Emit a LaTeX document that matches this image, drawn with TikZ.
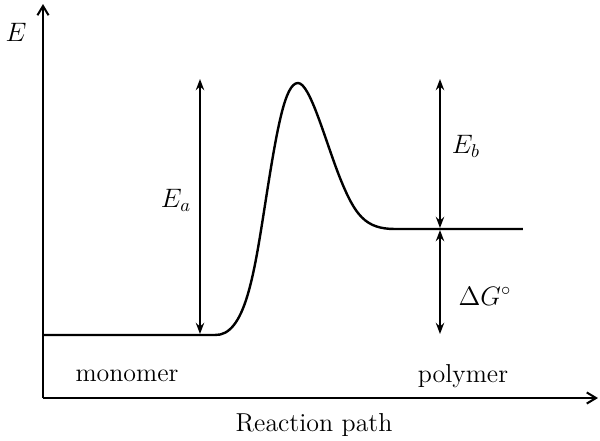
\documentclass[tikz,border=0pt]{standalone}
\usetikzlibrary{arrows.meta}
\begin{document}
\begin{tikzpicture}[x=0.54pt,y=-0.54pt,
  font=\fontsize{14}{17}\selectfont,
  axis/.style={line width=1.1pt,-{Straight Barb[length=5pt,width=6pt]}},
  dim/.style={line width=1.1pt,{Stealth[length=6pt,width=4.5pt]}-{Stealth[length=6pt,width=4.5pt]}},
  lvl/.style={line width=1.3pt},
  lbl/.style={inner sep=0pt}]
\useasboundingbox (0,0) rectangle (600,441);
% axes
\coordinate (O) at (43,398);
\coordinate (ytop) at (43,4);
\coordinate (xend) at (598,398);
\draw[axis] (O) -- (ytop);
\draw[axis] (O) -- (xend);
% energy profile
\coordinate (m0) at (43,335);
\coordinate (m1) at (215,335);
\coordinate (infl) at (265,205);
\coordinate (peak) at (298,83);
\coordinate (infr) at (340,178);
\coordinate (p0) at (395,229);
\coordinate (p1) at (523,229);
\draw[lvl] (m0) -- (m1)
  .. controls (245,336) and (254,275) .. (infl)
  .. controls (277,128) and (285,83) .. (peak)
  .. controls (310,83) and (325,140) .. (infr)
  .. controls (355,215) and (365,229) .. (p0) -- (p1);
% dimension arrows
\coordinate (eatop) at (200,79);
\coordinate (eabot) at (200,334);
\coordinate (ebtop) at (440,79);
\coordinate (ebbot) at (440,228);
\coordinate (dgtop) at (440,230);
\coordinate (dgbot) at (440,334);
\draw[dim] (eabot) -- (eatop);
\draw[dim] (ebtop) -- (ebbot);
\draw[dim] (dgtop) -- (dgbot);
% labels
\node[lbl] (lE) at (16,32) {$E$};
\node[lbl] (lEa) at (176,200) {$E_a$};
\node[lbl] (lEb) at (466,146) {$E_b$};
\node[lbl] (lDG) at (485,296) {$\Delta G^\circ$};
\node[lbl] (lmono) at (127,376) {monomer};
\node[lbl] (lpoly) at (463,376) {polymer};
\node[lbl] (lpath) at (314,425) {Reaction path};
\end{tikzpicture}
\end{document}
